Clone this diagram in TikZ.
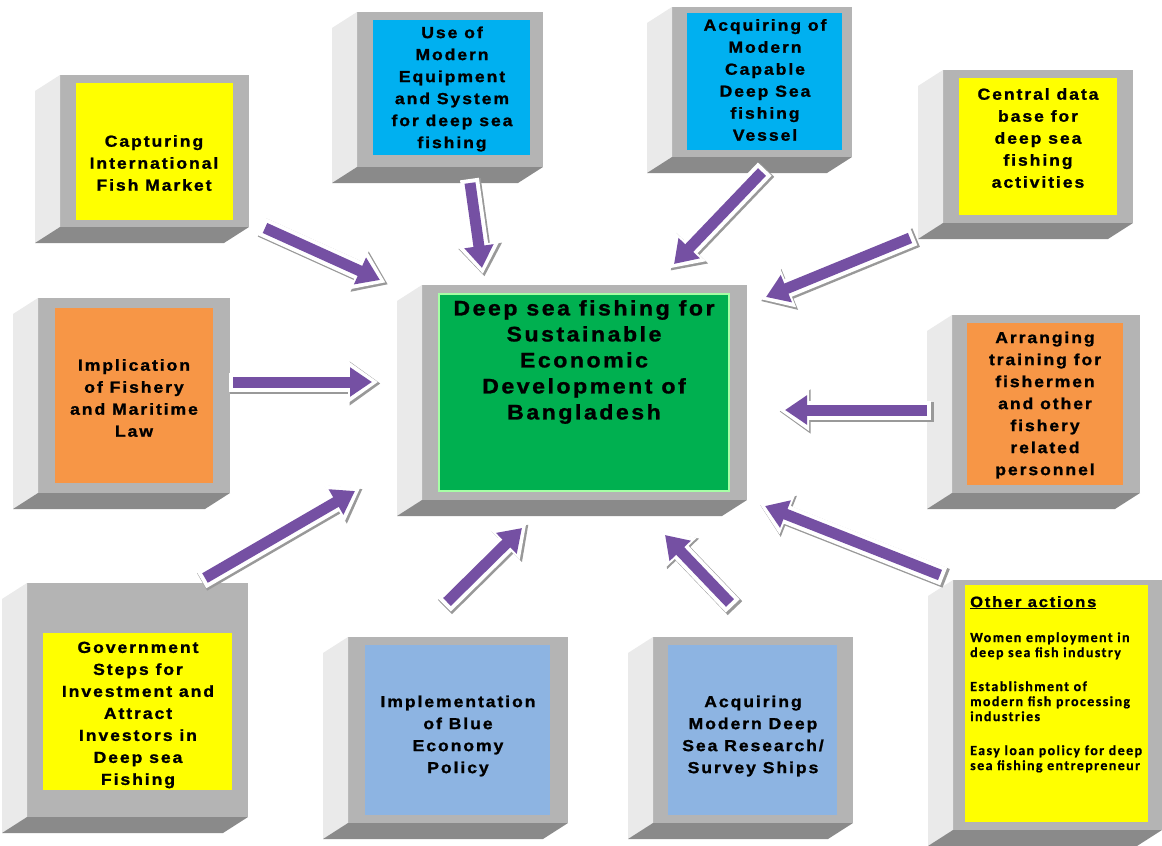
\documentclass[tikz,border=0pt]{standalone}
\usepackage{fontspec}
\setmainfont{Liberation Sans}
\newfontfamily\boxfont[LetterSpace=12, FakeStretch=1.1, FakeBold=1.2]{Liberation Sans Bold}
\newfontfamily\notefont[LetterSpace=10, FakeBold=0.6]{Carlito Bold}
\usetikzlibrary{positioning, fit, arrows.meta}

\definecolor{facegray}{RGB}{180,180,180}
\definecolor{sidegray}{RGB}{234,234,234}
\definecolor{basegray}{RGB}{138,138,138}
\definecolor{boxyellow}{RGB}{255,255,0}
\definecolor{boxcyan}{RGB}{0,176,240}
\definecolor{boxsky}{RGB}{141,180,226}
\definecolor{boxorange}{RGB}{247,150,70}
\definecolor{boxgreen}{RGB}{0,176,80}
\definecolor{flowpurple}{RGB}{117,80,163}

\begin{document}
\begin{tikzpicture}[x=1pt, y=-1pt,
    front/.style={fill=facegray, draw=none, inner sep=0pt, outer sep=0pt},
    panel/.style={draw=none, inner sep=0pt, outer sep=0pt},
    label/.style={align=center, inner sep=0pt,
      font=\boxfont\fontsize{16}{22}\selectfont},
    sideface/.style={fill=sidegray},
    baseface/.style={fill=basegray},
    flow/.style={draw=flowpurple, line width=11pt,
      -{Triangle[length=22pt, width=28pt]}},
    flowrim/.style={draw=white, line width=19pt, shorten >=-6pt, shorten <=-4pt,
      -{Triangle[length=30pt, width=40pt]}},
    flowshade/.style={draw=gray!80, line width=20pt, shorten >=-7pt, shorten <=-5pt,
      -{Triangle[length=31pt, width=42pt]}, transform canvas={shift={(1.5pt,-1.5pt)}}}]

\fill[white] (0,0) rectangle (1162,846);
\useasboundingbox (0,0) rectangle (1162,846);

% front faces
\node[front, fit={(60,75) (249,227)}] (cap) {};
\node[front, fit={(357,12) (543,167)}] (use) {};
\node[front, fit={(672,7) (852,157)}] (vessel) {};
\node[front, fit={(943,70) (1133,223)}] (datab) {};
\node[front, fit={(38,298) (230,493)}] (law) {};
\node[front, fit={(422,285) (747,500)}] (goal) {};
\node[front, fit={(952,315) (1140,493)}] (train) {};
\node[front, fit={(27,583) (248,817)}] (invest) {};
\node[front, fit={(348,637) (568,823)}] (blue) {};
\node[front, fit={(653,637) (853,823)}] (survey) {};
\node[front, fit={(953,580) (1162,830)}] (other) {};

% side and bottom faces
\foreach \b in {cap,use,vessel,datab,law,goal,train,invest,blue,survey,other} {
  \fill[sideface] (\b.north west) -- (\b.south west) -- ++(-25,16)
    -- ([shift={(-25,16)}]\b.north west) -- cycle;
  \fill[baseface] (\b.south west) -- (\b.south east) -- ++(-25,16)
    -- ([shift={(-25,16)}]\b.south west) -- cycle;
}

% coloured panels
\node[panel, fill=boxyellow, fit={(76,83) (233,220)}] (capin) {};
\node[panel, fill=boxcyan, fit={(373,20) (530,155)}] (usein) {};
\node[panel, fill=boxcyan, fit={(687,13) (842,150)}] (vesselin) {};
\node[panel, fill=boxyellow, fit={(959,78) (1117,215)}] (databin) {};
\node[panel, fill=boxorange, fit={(55,308) (213,483)}] (lawin) {};
\node[panel, fill=boxgreen, draw=green!35!white, line width=2pt,
  fit={(439,294) (729,491)}] (goalin) {};
\node[panel, fill=boxorange, fit={(967,323) (1123,485)}] (trainin) {};
\node[panel, fill=boxyellow, fit={(43,633) (232,790)}] (investin) {};
\node[panel, fill=boxsky, fit={(365,645) (550,815)}] (bluein) {};
\node[panel, fill=boxsky, fit={(668,645) (837,815)}] (surveyin) {};
\node[panel, fill=boxyellow, fit={(965,585) (1148,822)}] (otherin) {};

% texts
\node[label] (captext) at (154,163) {Capturing\\International\\Fish Market};
\node[label] (usetext) at (452,89) {Use of\\Modern\\Equipment\\and System\\for deep sea\\fishing};
\node[label] (vesseltext) at (765,80) {Acquiring of\\Modern\\Capable\\Deep Sea\\fishing\\Vessel};
\node[label] (databtext) at (1038,138) {Central data\\base for\\deep sea\\fishing\\activities};
\node[label] (lawtext) at (134,398) {Implication\\of Fishery\\and Maritime\\Law};
\node[label, font=\boxfont\fontsize{21}{26}\selectfont] (goaltext) at (584,362)
  {Deep sea fishing for\\Sustainable\\Economic\\Development of\\Bangladesh};
\node[label] (traintext) at (1045,405) {Arranging\\training for\\fishermen\\and other\\fishery\\related\\personnel};
\node[label] (investtext) at (138,715) {Government\\Steps for\\Investment and\\Attract\\Investors in\\Deep sea\\Fishing};
\node[label] (bluetext) at (458,736) {Implementation\\of Blue\\Economy\\Policy};
\node[label] (surveytext) at (753,736) {Acquiring\\Modern Deep\\Sea Research/\\Survey Ships};
\node[anchor=north west, align=left, inner sep=0pt,
  font=\notefont\fontsize{14}{15}\selectfont] (othertext) at (970,596)
  {{\boxfont\fontsize{15}{16}\selectfont\underline{Other actions}}\\[20pt]
   Women employment in\\deep sea fish industry\\[19pt]
   Establishment of\\modern fish processing\\industries\\[19pt]
   Easy loan policy for deep\\sea fishing entrepreneur};

% arrow ends
\coordinate (captail) at (265,228);    \coordinate (captip) at (380,280);
\coordinate (usetail) at (470,183);    \coordinate (usetip) at (482,268);
\coordinate (vesseltail) at (762,172); \coordinate (vesseltip) at (674,264);
\coordinate (databtail) at (910,238);  \coordinate (databtip) at (766,297);
\coordinate (lawtail) at (233,382);    \coordinate (lawtip) at (372,382);
\coordinate (traintail) at (927,410);  \coordinate (traintip) at (785,410);
\coordinate (investtail) at (205,578); \coordinate (investtip) at (355,491);
\coordinate (bluetail) at (447,602);   \coordinate (bluetip) at (522,528);
\coordinate (surveytail) at (730,603); \coordinate (surveytip) at (665,535);
\coordinate (othertail) at (940,575);  \coordinate (othertip) at (765,506);

\foreach \b in {cap,use,vessel,datab,law,train,invest,blue,survey,other} {
  \draw[flowshade] (\b tail) -- (\b tip);
  \draw[flowrim] (\b tail) -- (\b tip);
  \draw[flow] (\b tail) -- (\b tip);
}
\end{tikzpicture}
\end{document}
